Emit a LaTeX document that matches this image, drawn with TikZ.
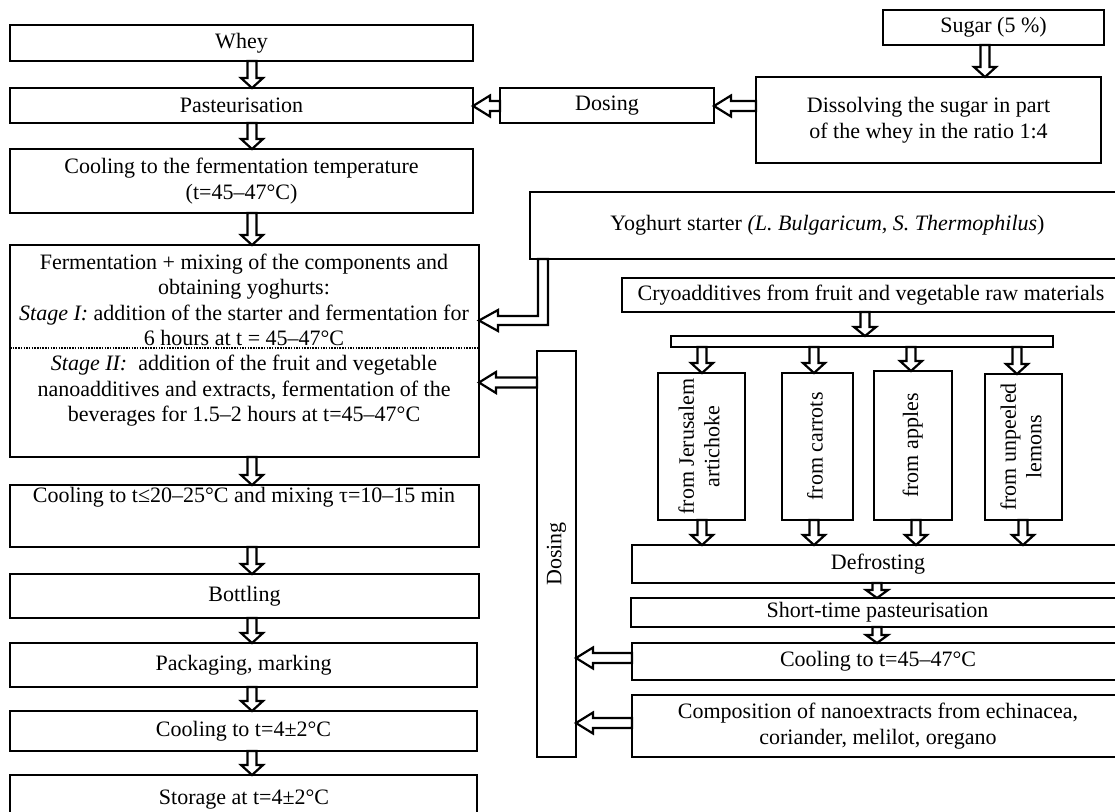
\documentclass[tikz,border=0pt]{standalone}
\usepackage{fontspec}
\setmainfont{Liberation Serif}
\usepackage{graphicx}
\usetikzlibrary{calc}
\newcommand\fsz{\fontsize{22}{25.5}\selectfont}
\tikzset{
 box/.style={draw, line width=2.2pt, inner sep=0pt, outer sep=0pt, align=center, font=\fsz},
 txt/.style={inner sep=0pt, align=center, font=\fsz},
 harrow/.style={draw, fill=white, line width=2.2pt, line join=miter, miter limit=10},
}
\newcommand\bx[6]{\node[box, minimum width={(#4-#2)*1pt}, minimum height={(#5-#3)*1pt}] (#1) at ({(#2+#4)/2},{(#3+#5)/2}) {#6};}
% vertical down arrow: x, from, to, head length
\newcommand\varr[4]{\draw[harrow] let \p1=(#2.south), \p2=(#3.north), \p3=(#1,0) in (\x3-4.5pt,\y1) -- (\x3-4.5pt,\y2+#4pt) -- (\x3-11pt,\y2+#4pt) -- (\x3,\y2) -- (\x3+11pt,\y2+#4pt) -- (\x3+4.5pt,\y2+#4pt) -- (\x3+4.5pt,\y1) -- cycle;}
% horizontal left arrow: y, from, to, head length
\newcommand\larr[4]{\draw[harrow] let \p1=(#2.west), \p2=(#3.east), \p3=(0,#1) in (\x1,\y3+5pt) -- (\x2+#4pt,\y3+5pt) -- (\x2+#4pt,\y3+10.5pt) -- (\x2,\y3) -- (\x2+#4pt,\y3-10.5pt) -- (\x2+#4pt,\y3-5pt) -- (\x1,\y3-5pt) -- cycle;}
\newcommand\rtext[1]{\rotatebox{90}{\begin{tabular}{@{}c@{}}#1\end{tabular}}}
\begin{document}
\begin{tikzpicture}[x=1pt,y=-1pt]
\useasboundingbox (0,0) rectangle (1115,811);
\fill[white] (0,0) rectangle (1115,811);
\clip (0,0) rectangle (1115,811);
% left column
\bx{whey}{10}{25}{473}{61}{Whey}
\bx{past}{10}{88}{473}{123}{Pasteurisation}
\bx{coolf}{10}{149}{473}{213}{Cooling to the fermentation temperature\\(t=45–47°C)}
\bx{ferm}{10}{245}{479}{457}{}
\node[txt] (fermA) at (244,300) {Fermentation + mixing of the components and\\obtaining yoghurts:\\\textit{Stage I:} addition of the starter and fermentation for\\6 hours at t = 45–47°C};
\draw[line width=1.5pt, dash pattern=on 1.5pt off 1.2pt] (10,348) -- (479,348);
\node[txt] (fermB) at (244,391) {\textit{Stage II:}\ \ addition of the fruit and vegetable\\nanoadditives and extracts, fermentation of the\\beverages for 1.5–2 hours at t=45–47°C};
\bx{cool2}{10}{485}{479}{547}{}
\node[txt] (cool2t) at (244,497) {Cooling to t≤20–25°C and mixing τ=10–15 min};
\bx{bott}{10}{574}{479}{618}{Bottling}
\bx{pack}{10}{643}{477}{687}{Packaging, marking}
\bx{cool4}{10}{711}{477}{751}{Cooling to t=4±2°C}
\bx{stor}{10}{775}{477}{830}{}
\node[txt] (stort) at (244,800) {Storage at t=4±2°C};
% right top
\bx{sugar}{883}{10}{1104}{45}{Sugar (5 \%)}
\bx{diss}{756}{77}{1101}{163}{Dissolving the sugar in part\\of the whey in the ratio 1:4}
\bx{dos1}{500}{88}{714}{123}{Dosing}
\bx{yog}{530}{192}{1125}{259}{Yoghurt starter \textit{(L. Bulgaricum, S. Thermophilus})}
\bx{cryo}{622}{278}{1120}{312}{Cryoadditives from fruit and vegetable raw materials}
\bx{bar}{671}{336}{1053}{347}{}
\bx{b1}{658}{373}{745}{520}{\rtext{from Jerusalem\\artichoke}}
\bx{b2}{782}{373}{853}{520}{\rtext{from carrots}}
\bx{b3}{874}{371}{952}{520}{\rtext{from apples}}
\bx{b4}{985}{374}{1062}{520}{\rtext{from unpeeled\\lemons}}
\bx{defr}{632}{545}{1124}{583}{Defrosting}
\bx{short}{631}{598}{1124}{627}{Short-time pasteurisation}
\bx{cool45}{632}{643}{1124}{680}{Cooling to t=45–47°C}
\bx{comp}{632}{695}{1124}{757}{Composition of nanoextracts from echinacea,\\coriander, melilot, oregano}
\bx{dos2}{537}{351}{576}{757}{\rotatebox{90}{Dosing}}
% arrows left column
\varr{252}{whey}{past}{10}
\varr{252}{past}{coolf}{10}
\varr{252}{coolf}{ferm}{10}
\varr{252}{ferm}{cool2}{10}
\varr{252}{cool2}{bott}{10}
\varr{252}{bott}{pack}{10}
\varr{252}{pack}{cool4}{10}
\varr{252}{cool4}{stor}{10}
% top right
\varr{985}{sugar}{diss}{10}
\larr{106}{diss}{dos1}{17}
\larr{106}{dos1}{past}{17}
% yoghurt bent arrow
\draw[harrow] let \p1=(yog.south), \p2=(ferm.east), \p3=(538,316), \p4=(548,325), \p5=(0,320.5) in
 (\x3,\y1) -- (\x3,\y3) -- (\x2+19pt,\y3) -- (\x2+19pt,\y5+10.5pt) -- (\x2,\y5) -- (\x2+19pt,\y5-10.5pt) -- (\x2+19pt,\y4) -- (\x4,\y4) -- (\x4,\y1) -- cycle;
\larr{382.5}{dos2}{ferm}{17}
% cryo branch
\varr{865}{cryo}{bar}{9}
\varr{702}{bar}{b1}{10}
\varr{814}{bar}{b2}{10}
\varr{911}{bar}{b3}{10}
\varr{1017}{bar}{b4}{10}
\varr{702}{b1}{defr}{10}
\varr{814}{b2}{defr}{10}
\varr{916}{b3}{defr}{10}
\varr{1023}{b4}{defr}{10}
\varr{877}{defr}{short}{8}
\varr{877}{short}{cool45}{8}
\larr{658}{cool45}{dos2}{17}
\larr{723}{comp}{dos2}{17}
\end{tikzpicture}
\end{document}
